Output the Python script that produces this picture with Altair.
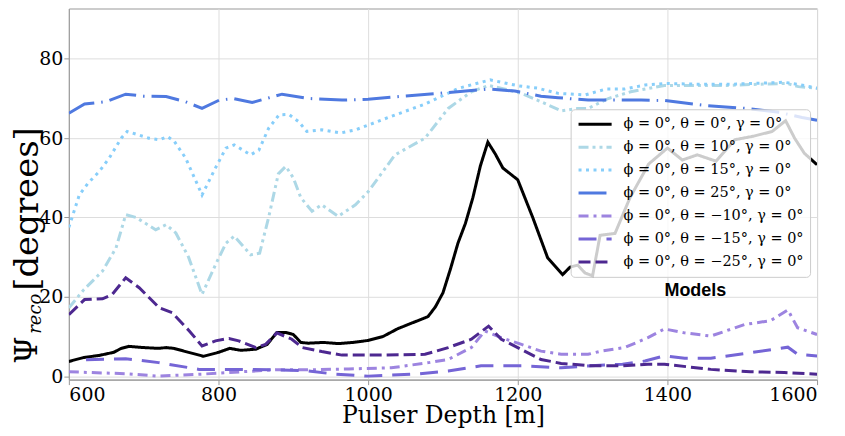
import altair as alt
import pandas as pd

# ---------------- data ----------------
labels = [
    "ϕ = 0°, θ = 0°, γ = 0°",
    "ϕ = 0°, θ = 10°, γ = 0°",
    "ϕ = 0°, θ = 15°, γ = 0°",
    "ϕ = 0°, θ = 25°, γ = 0°",
    "ϕ = 0°, θ = −10°, γ = 0°",
    "ϕ = 0°, θ = −15°, γ = 0°",
    "ϕ = 0°, θ = −25°, γ = 0°",
]
colors = ["#000000", "#add8e6", "#87cefa", "#4f79e0", "#9d84e0", "#7565d6", "#4d2890"]
dashes = [[1, 0], [10, 4, 3, 4, 3, 4], [3, 4.5], [28, 7, 1.5, 7], [10, 5, 3, 5], [18, 10], [12, 5]]

d_t0 = [600, 620, 640, 660, 670, 680, 700, 720, 730, 740, 760, 780, 800, 815, 830, 850, 865, 878,
        890, 900, 910, 920, 940, 960, 980, 1000, 1020, 1040, 1060, 1080, 1090, 1100, 1110, 1120,
        1130, 1140, 1150, 1160, 1170, 1180, 1200, 1220, 1240, 1260, 1270, 1280, 1290, 1300, 1310,
        1330, 1350, 1375, 1400, 1420, 1440, 1465, 1490, 1515, 1540, 1558, 1570, 1583, 1600]
v_t0 = [3.7, 4.7, 5.2, 6.0, 7.0, 7.5, 7.2, 7.0, 7.2, 7.0, 6.0, 5.0, 6.0, 7.0, 6.5, 6.8, 8.0, 11.0,
        11.0, 10.5, 8.5, 8.3, 8.5, 8.2, 8.5, 9.0, 10.0, 12.0, 13.5, 15.0, 17.5, 21.0, 27.0, 33.5,
        38.5, 45.0, 53.0, 59.0, 56.0, 52.5, 49.5, 40.0, 29.8, 25.6, 27.5, 28.0, 26.0, 25.3, 35.5,
        36.0, 45.0, 53.5, 57.5, 54.5, 55.8, 54.2, 59.6, 60.5, 61.7, 64.4, 60.0, 56.2, 53.3]

d_t10 = [600, 620, 645, 663, 676, 690, 716, 730, 743, 760, 778, 796, 810, 821, 843, 855, 867, 880,
         890, 900, 910, 925, 938, 960, 983, 1000, 1036, 1076, 1107, 1138, 1161, 1180, 1205, 1231,
         1258, 1280, 1294, 1321, 1351, 1396, 1441, 1480, 1521, 1560, 1575, 1600]
v_t10 = [17.2, 21.8, 26.5, 32.3, 40.7, 40.0, 36.9, 38.2, 36.1, 30.0, 20.6, 28.1, 33.5, 35.3, 30.6,
         31.0, 40.0, 51.0, 52.9, 50.0, 45.0, 41.6, 43.2, 40.3, 43.2, 46.5, 55.8, 60.0, 67.5, 71.7,
         73.3, 72.5, 71.3, 69.2, 66.9, 67.5, 67.5, 70.0, 71.7, 73.3, 73.3, 73.3, 73.6, 73.8, 73.0, 72.6]

d_t15 = [600, 614, 625, 641, 654, 670, 678, 707, 721, 732, 741, 756, 770, 778, 796, 810, 821, 843,
         854, 867, 881, 894, 907, 918, 938, 963, 983, 1031, 1076, 1121, 1163, 1201, 1227, 1254,
         1290, 1318, 1343, 1370, 1396, 1441, 1485, 1556, 1583, 1600]
v_t15 = [37.5, 45.7, 48.5, 51.7, 55.0, 60.0, 61.7, 60.0, 59.6, 60.4, 59.2, 55.0, 49.1, 45.7, 52.5,
         57.5, 58.3, 55.8, 57.0, 62.5, 65.9, 66.0, 64.2, 61.7, 62.1, 61.3, 62.1, 65.5, 68.6, 72.6,
         74.7, 73.2, 72.6, 71.3, 70.9, 72.4, 72.4, 73.4, 73.8, 73.6, 73.6, 74.1, 73.3, 72.6]

d_t25 = [600, 621, 650, 676, 700, 730, 756, 778, 801, 820, 845, 870, 885, 921, 965, 1000, 1041,
         1107, 1161, 1196, 1231, 1254, 1294, 1330, 1365, 1396, 1454, 1507, 1550, 1580, 1600]
v_t25 = [66.3, 68.6, 69.2, 71.1, 70.6, 70.5, 69.2, 67.5, 69.6, 70.0, 69.0, 70.3, 71.1, 70.0, 69.6,
         69.8, 70.5, 71.5, 72.4, 71.9, 70.6, 70.2, 69.6, 69.6, 69.6, 69.5, 68.2, 67.5, 66.5, 65.2, 64.5]

d_m10 = [600, 676, 720, 778, 831, 876, 921, 974, 1031, 1081, 1107, 1138, 1156, 1178, 1205, 1231,
         1258, 1294, 1311, 1343, 1374, 1396, 1423, 1458, 1503, 1538, 1561, 1574, 1600]
v_m10 = [1.1, 0.6, 0.0, 0.5, 1.1, 1.6, 1.6, 1.8, 2.1, 3.4, 4.2, 7.2, 11.4, 9.7, 8.0, 6.3, 5.5, 5.5,
         6.3, 7.2, 9.7, 11.9, 10.9, 10.1, 13.0, 14.0, 16.7, 12.2, 10.5]

d_m15 = [623, 676, 720, 774, 818, 876, 920, 956, 1000, 1063, 1107, 1151, 1205, 1258, 1298, 1340,
         1370, 1396, 1423, 1458, 1511, 1561, 1574, 1600]
v_m15 = [4.1, 4.4, 3.4, 1.7, 1.7, 1.6, 1.3, 0.5, 0.0, 0.5, 1.3, 2.6, 2.6, 2.1, 2.6, 3.0, 3.8, 5.1,
         4.5, 4.5, 5.9, 7.3, 5.5, 5.1]

d_m25 = [600, 621, 645, 658, 676, 694, 721, 738, 761, 778, 796, 814, 827, 850, 863, 878, 898, 912,
         938, 965, 1018, 1076, 1107, 1138, 1161, 1178, 1205, 1231, 1258, 1298, 1338, 1374, 1396,
         1458, 1511, 1556, 1600]
v_m25 = [15.5, 19.3, 19.5, 20.6, 24.8, 22.3, 17.2, 16.0, 11.4, 7.6, 8.9, 9.5, 8.9, 7.2, 8.0, 10.9,
         9.3, 7.2, 6.2, 5.3, 5.3, 5.5, 7.2, 9.3, 12.6, 9.3, 6.7, 4.2, 3.2, 2.6, 2.6, 3.0, 3.0, 1.7,
         1.1, 0.9, 0.5]

x_ticks = [600, 800, 1000, 1200, 1400, 1600]
y_ticks = [0, 20, 40, 60, 80]

# ---------------- build table ----------------
series = [(d_t0, v_t0), (d_t10, v_t10), (d_t15, v_t15), (d_t25, v_t25),
          (d_m10, v_m10), (d_m15, v_m15), (d_m25, v_m25)]
rows = []
for i, (ds, vs) in enumerate(series):
    for d, v in zip(ds, vs):
        rows.append({"model": labels[i], "idx": i, "depth": d, "psi": v})
df = pd.DataFrame(rows)

W, H = 750, 372

leg = alt.Legend(
    orient="none", legendX=503, legendY=101, title=None,
    fillColor="rgba(255,255,255,0.8)", strokeColor="#cccccc", cornerRadius=4,
    padding=6, symbolType="stroke", symbolSize=1100, symbolStrokeWidth=3,
    labelFont="DejaVu Serif", labelFontSize=14.5, labelColor="black", labelLimit=400,
    clipHeight=18, rowPadding=5, labelOffset=10,
)

lines = alt.Chart(df).mark_line(strokeWidth=3, clip=True).encode(
    x=alt.X("depth:Q", scale=alt.Scale(domain=[600, 1600], nice=False),
            axis=alt.Axis(values=x_ticks, title="Pulser Depth [m]", format="d",
                          titleBaseline="alphabetic", titleY=43)),
    y=alt.Y("psi:Q", scale=alt.Scale(domain=[-0.88, 92.7], nice=False, zero=False),
            axis=alt.Axis(values=y_ticks, title=None, format="d")),
    color=alt.Color("model:N", sort=labels, scale=alt.Scale(domain=labels, range=colors), legend=leg),
    strokeDash=alt.StrokeDash("model:N", sort=labels, scale=alt.Scale(domain=labels, range=dashes), legend=leg),
    order=alt.Order("depth:Q"),
)

models = alt.Chart(pd.DataFrame({"t": ["Models"]})).mark_text(
    font="Liberation Sans", fontWeight="bold", fontSize=18, color="black",
    align="center", baseline="alphabetic",
).encode(text="t:N", x=alt.value(628), y=alt.value(288))

ytitle_psi = alt.Chart(pd.DataFrame({"t": ["Ψ"]})).mark_text(
    font="DejaVu Serif", fontSize=31, color="black", angle=270,
    align="left", baseline="alphabetic",
).encode(text="t:N", x=alt.value(-32), y=alt.value(356))

ytitle_sub = alt.Chart(pd.DataFrame({"t": ["reco"]})).mark_text(
    font="DejaVu Serif", fontSize=18, fontStyle="italic", color="black", angle=270,
    align="left", baseline="alphabetic",
).encode(text="t:N", x=alt.value(-28), y=alt.value(326))

ytitle_main = alt.Chart(pd.DataFrame({"t": ["[degrees]"]})).mark_text(
    font="DejaVu Serif", fontSize=34, color="black", angle=270,
    align="left", baseline="alphabetic",
).encode(text="t:N", x=alt.value(-31), y=alt.value(283))

chart = alt.layer(lines, models, ytitle_psi, ytitle_sub, ytitle_main).properties(
    width=W, height=H,
    padding={"left": 61, "top": 0, "right": 20, "bottom": 48},
    autosize=alt.AutoSizeParams(type="none"),
).configure_view(
    stroke="#999999", strokeWidth=1,
).configure_axis(
    grid=True, gridColor="#dddddd", gridWidth=1,
    domainColor="#999999", tickColor="#999999", tickSize=5,
    labelFont="DejaVu Serif", labelFontSize=19, labelColor="black", labelPadding=1,
    titleFont="DejaVu Serif", titleFontSize=23.5, titleFontWeight="normal", titleColor="black",
)

chart.save("out.html", embed_options={"renderer": "svg", "actions": False})
